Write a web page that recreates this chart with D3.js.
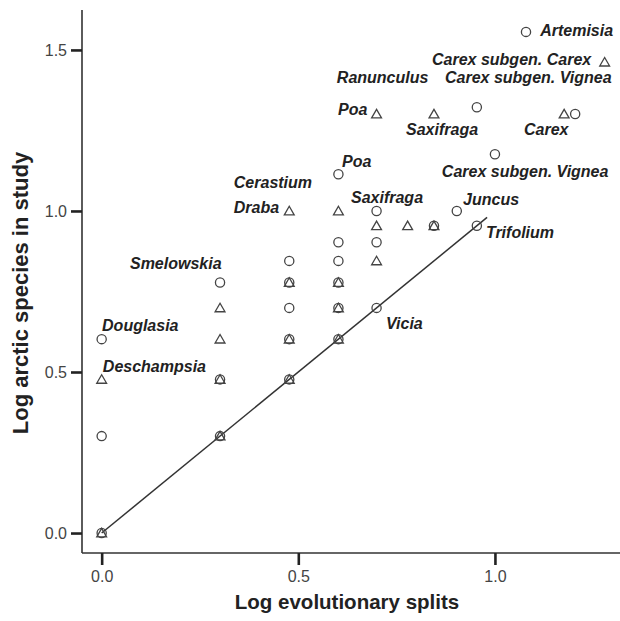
<!DOCTYPE html>
<html><head><meta charset="utf-8">
<script src="https://cdn.jsdelivr.net/npm/d3@7"></script>
<style>html,body{margin:0;padding:0;background:#fff;}svg{display:block;}</style>
</head><body>
<svg id="chart" width="620" height="621"></svg>
<script>
// Circles: [log splits, log arctic species]
const circleX = [0,0,0, 0.301,0.301,0.301, 0.477,0.477,0.477,0.477,0.477, 0.602,0.602,0.602,0.602,0.602,0.602, 0.699,0.699,0.699, 0.845, 0.903, 0.954,0.954, 1.0, 1.079, 1.204];
const circleY = [0,0.301,0.602, 0.301,0.477,0.778, 0.477,0.602,0.699,0.778,0.845, 0.602,0.699,0.778,0.845,0.903,1.114, 0.699,0.903,1.0, 0.954, 1.0, 0.954,1.322, 1.176, 1.556, 1.301];
// Triangles
const triX = [0,0, 0.301,0.301,0.301,0.301, 0.477,0.477,0.477,0.477, 0.602,0.602,0.602,0.602, 0.699,0.699,0.699, 0.778, 0.845,0.845, 1.176, 1.279];
const triY = [0,0.477, 0.301,0.477,0.602,0.699, 0.477,0.602,0.778,1.0, 0.602,0.699,0.778,1.0, 0.845,0.954,1.301, 0.954, 0.954,1.301, 1.301, 1.462];
// 1:1 reference line
const lineStart = 0, lineEnd = 0.98;
// Axis ticks
const xTicks = [0, 0.5, 1.0];
const yTicks = [0, 0.5, 1.0, 1.5];
const xTitle = "Log evolutionary splits";
const yTitle = "Log arctic species in study";
// Taxon labels (text, x value, y value of text baseline start)
const labelText = ["Artemisia","Carex subgen. Carex","Ranunculus","Carex subgen. Vignea","Poa","Saxifraga","Carex","Poa","Carex subgen. Vignea","Saxifraga","Juncus","Trifolium","Vicia","Cerastium","Draba","Smelowskia","Douglasia","Deschampsia"];
const labelX = [1.115,0.840,0.598,0.873,0.601,0.774,1.074,0.611,0.865,0.634,0.919,0.977,0.723,0.336,0.336,0.072,0.001,0.003];
const labelY = [1.543,1.453,1.398,1.398,1.298,1.236,1.236,1.137,1.106,1.025,1.019,0.916,0.634,1.071,0.994,0.820,0.627,0.500];

const svg = d3.select("#chart");
const x = d3.scaleLinear().domain([-0.05, 1.318]).range([82, 620]);
const y = d3.scaleLinear().domain([-0.062, 1.624]).range([553, 10]);
const ink = "#333";
const font = "Liberation Sans, Arial, sans-serif";

// axes
const gx = svg.append("g").attr("transform", "translate(0,553)")
  .call(d3.axisBottom(x).tickValues(xTicks).tickFormat(d3.format(".1f")).tickSize(12).tickPadding(6));
const gy = svg.append("g").attr("transform", "translate(82,0)")
  .call(d3.axisLeft(y).tickValues(yTicks).tickFormat(d3.format(".1f")).tickSize(11).tickPadding(4));
[gx, gy].forEach(g => {
  g.select(".domain").attr("stroke", ink).attr("stroke-width", 1.6);
  g.selectAll(".tick line").attr("stroke", "#222").attr("stroke-width", 2.6);
  g.selectAll(".tick text").attr("fill", "#444").style("font-family", font).style("font-size", "16px");
});
gx.select(".domain").attr("d", `M${x.range()[0]},0H${x.range()[1]}`);
gy.select(".domain").attr("d", `M0,${y.range()[0]}V${y.range()[1]}`);

// titles
svg.append("text").attr("x", 347).attr("y", 609).attr("text-anchor", "middle")
  .style("font-family", font).style("font-weight", "bold").style("font-size", "20.5px").attr("fill", "#222").text(xTitle);
svg.append("text").attr("transform", "translate(28,293) rotate(-90)").attr("text-anchor", "middle")
  .style("font-family", font).style("font-weight", "bold").style("font-size", "22px").attr("fill", "#222").text(yTitle);

// reference line
svg.append("line").attr("x1", x(lineStart)).attr("y1", y(lineStart)).attr("x2", x(lineEnd)).attr("y2", y(lineEnd))
  .attr("stroke", ink).attr("stroke-width", 1.5);

// circles
const circles = circleX.map((v, i) => [v, circleY[i]]);
svg.append("g").selectAll("circle").data(circles).join("circle")
  .attr("cx", d => x(d[0])).attr("cy", d => y(d[1])).attr("r", 4.6)
  .attr("fill", "none").attr("stroke", "#444").attr("stroke-width", 1.3);

// triangles
const tris = triX.map((v, i) => [v, triY[i]]);
const triPath = d3.symbol().type(d3.symbolTriangle).size(42);
svg.append("g").selectAll("path").data(tris).join("path")
  .attr("d", triPath).attr("transform", d => `translate(${x(d[0])},${y(d[1]) + 1})`)
  .attr("fill", "none").attr("stroke", "#444").attr("stroke-width", 1.3);

// labels
svg.append("g").selectAll("text").data(labelText).join("text")
  .attr("x", (d, i) => x(labelX[i])).attr("y", (d, i) => y(labelY[i]))
  .style("font-family", font).style("font-weight", "bold").style("font-style", "italic")
  .style("font-size", "16px").attr("fill", "#222").text(d => d);
</script>
</body></html>
